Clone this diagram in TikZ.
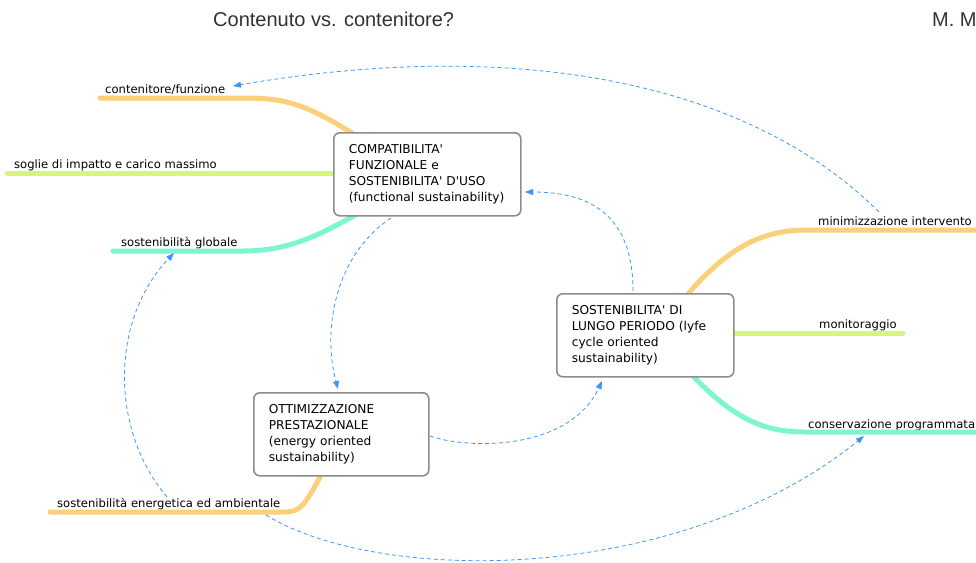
\documentclass[tikz,border=0pt]{standalone}
\usepackage{fontspec}
\setmainfont{DejaVu Sans}
\newfontfamily\titlefont{Liberation Sans}
\usetikzlibrary{arrows.meta}
\definecolor{brOrange}{RGB}{252,208,120}
\definecolor{brLime}{RGB}{214,245,123}
\definecolor{brAqua}{RGB}{125,245,207}
\definecolor{linkBlue}{RGB}{60,150,250}
\definecolor{boxGray}{RGB}{140,140,140}
\definecolor{titleGray}{RGB}{50,50,50}
\newcommand{\ap}{\textquotesingle}
\begin{document}
\begin{tikzpicture}[x=1pt,y=-1pt,
  branch/.style={line width=5pt, line cap=round},
  topic/.style={draw=boxGray, line width=1.6pt, rounded corners=6pt, fill=white,
    anchor=north west, inner xsep=15pt, inner ysep=2pt, minimum height=83pt,
    align=left, font=\fontsize{12.2}{16}\selectfont},
  leaf/.style={anchor=base west, inner sep=0pt, font=\fontsize{11.6}{14}\selectfont},
  link/.style={draw=linkBlue, line width=0.8pt, dash pattern=on 4pt off 3pt,
    -{Triangle[length=8pt,width=6pt]}},
  heading/.style={anchor=base west, inner sep=0pt, text=titleGray,
    font=\titlefont\fontsize{20}{24}\selectfont},
]
\useasboundingbox (0,0) rectangle (976,562);
\clip (0,0) rectangle (976,562);

% titles
\node[heading] (title) at (213,27) {Contenuto vs. contenitore?};
\node[heading] (author) at (932,26) {M. M};

% leaf labels
\node[leaf] (cf) at (105,93) {contenitore/funzione};
\node[leaf] (sg) at (14,168) {soglie di impatto e carico massimo};
\node[leaf] (sgl) at (121,246) {sostenibilità globale};
\node[leaf] (mi) at (818,225) {minimizzazione intervento};
\node[leaf] (mo) at (819,328) {monitoraggio};
\node[leaf] (cp) at (808,428) {conservazione programmata};
\node[leaf] (se) at (57,507) {sostenibilità energetica ed ambientale};

% branch end coordinates
\coordinate (cfEnd) at (100,98);
\coordinate (sgEnd) at (7,173);
\coordinate (sglEnd) at (113,251);
\coordinate (miEnd) at (985,230);
\coordinate (moEnd) at (903,333);
\coordinate (cpEnd) at (985,432);
\coordinate (seEnd) at (50,512);

% branches (drawn before the boxes so the boxes cover their roots)
\draw[branch, brOrange] (352,133) .. controls (305,104) and (285,98) .. (245,98) -- (cfEnd);
\draw[branch, brLime] (336,173) -- (sgEnd);
\draw[branch, brAqua] (357,214) .. controls (315,238) and (285,251) .. (243,251) -- (sglEnd);
\draw[branch, brOrange] (688,294) .. controls (730,245) and (765,230) .. (807,230) -- (miEnd);
\draw[branch, brLime] (731,333) -- (moEnd);
\draw[branch, brAqua] (692,375) .. controls (735,420) and (765,432) .. (805,432) -- (cpEnd);
\draw[branch, brOrange] (320,477) .. controls (305,505) and (300,512) .. (285,512) -- (seEnd);

% topic boxes
\node[topic, text width=157pt] (fun) at (333,132)
  {COMPATIBILITA\ap\\FUNZIONALE e\\SOSTENIBILITA\ap{} D\ap USO\\(functional sustainability)};
\node[topic, text width=147pt] (lung) at (556,293)
  {SOSTENIBILITA\ap{} DI\\LUNGO PERIODO (lyfe\\cycle oriented\\sustainability)};
\node[topic, text width=145pt] (ott) at (253,392)
  {OTTIMIZZAZIONE\\PRESTAZIONALE\\(energy oriented\\sustainability)};

% link end points
\coordinate (l1s) at (879,212);
\coordinate (l1e) at (233,86);
\coordinate (l2s) at (633,291);
\coordinate (l2e) at (525,192);
\coordinate (l3s) at (391,218);
\coordinate (l3e) at (338,389);
\coordinate (l4s) at (430,436);
\coordinate (l4e) at (602,381);
\coordinate (l5s) at (266,515);
\coordinate (l5e) at (864,436);
\coordinate (l6s) at (167,497);
\coordinate (l6e) at (174,253);

% dashed links
\draw[link] (l1s) .. controls (740,74) and (500,40) .. (l1e);
\draw[link] (l2s) .. controls (633,215) and (590,192) .. (l2e);
\draw[link] (l3s) .. controls (335,255) and (322,330) .. (l3e);
\draw[link] (l4s) .. controls (470,450) and (570,450) .. (l4e);
\draw[link] (l5s) .. controls (380,585) and (680,585) .. (l5e);
\draw[link] (l6s) .. controls (110,430) and (110,320) .. (l6e);
\end{tikzpicture}
\end{document}
